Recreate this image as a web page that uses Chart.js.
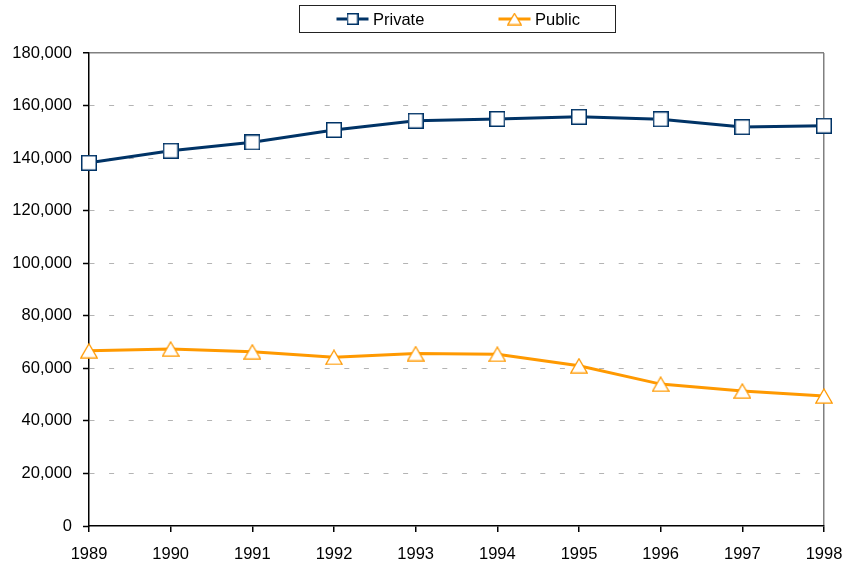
<!DOCTYPE html>
<html>
<head>
<meta charset="utf-8">
<script src="https://cdn.jsdelivr.net/npm/chart.js@4"></script>
<style>
  html, body { margin: 0; padding: 0; background: #fff; }
  #wrap { width: 846px; height: 565px; position: relative; }
</style>
</head>
<body>
<div id="wrap"><canvas id="chart"></canvas></div>
<script>
// DATA
const years = ["1989", "1990", "1991", "1992", "1993", "1994", "1995", "1996", "1997", "1998"];
const privateValues = [138200, 142800, 146000, 150700, 154200, 154900, 155700, 154800, 151800, 152300];
const publicValues = [66700, 67400, 66300, 64200, 65600, 65400, 61000, 54000, 51400, 49500];
const seriesNames = ["Private", "Public"];
const yMax = 180000;
const yStep = 20000;

const navy = "#003366";
const orange = "#FF9900";

// MARKERS (drawn once, used as point styles)
function squareMarker(size, color) {
    let c = document.createElement("canvas");
    c.width = size; c.height = size;
    let g = c.getContext("2d");
    g.fillStyle = "#fff";
    g.strokeStyle = color;
    g.lineWidth = 1.5;
    g.fillRect(0.75, 0.75, size - 1.5, size - 1.5);
    g.strokeRect(0.75, 0.75, size - 1.5, size - 1.5);
    return c;
}

function triangleMarker(w, h, color) {
    let c = document.createElement("canvas");
    c.width = w; c.height = h;
    let g = c.getContext("2d");
    g.fillStyle = "#fff";
    g.strokeStyle = color;
    g.lineWidth = 1.3;
    g.lineJoin = "miter";
    g.beginPath();
    g.moveTo(w / 2, 1);
    g.lineTo(w - 0.8, h - 0.8);
    g.lineTo(0.8, h - 0.8);
    g.closePath();
    g.fill();
    g.stroke();
    return c;
}

let privMarker = squareMarker(16, navy);
let pubMarker = triangleMarker(18, 16, orange);

Chart.defaults.font.family = '"Liberation Sans", Arial, sans-serif';
Chart.defaults.font.size = 16.5;
Chart.defaults.color = "#000";

// LEGEND (boxed, line + marker symbols)
const boxedLegend = {
    id: "boxedLegend",
    afterDraw(chart) {
        let ctx = chart.ctx;
        let ca = chart.chartArea;
        let cx = (ca.left + ca.right) / 2;
        let y = 19;

        ctx.save();
        ctx.strokeStyle = "#222";
        ctx.lineWidth = 1;
        ctx.strokeRect(Math.round(cx - 158) + 0.5, 5.5, 316, 27);

        let items = [
            { x: cx - 120, color: navy, marker: squareMarker(12, navy) },
            { x: cx + 42, color: orange, marker: triangleMarker(15, 13, orange) }
        ];

        ctx.font = '16.5px "Liberation Sans", Arial, sans-serif';
        ctx.textBaseline = "middle";
        ctx.fillStyle = "#000";

        items.forEach((it, i) => {
            ctx.strokeStyle = it.color;
            ctx.lineWidth = 3;
            ctx.beginPath();
            ctx.moveTo(it.x, y);
            ctx.lineTo(it.x + 32, y);
            ctx.stroke();
            let m = it.marker;
            ctx.drawImage(m, it.x + 16 - m.width / 2, y - m.height / 2);
            ctx.fillText(chart.data.datasets[i].label, it.x + 36.5, y + 1);
        });
        ctx.restore();
    }
};

new Chart(document.getElementById("chart"), {
    type: "line",
    data: {
        labels: years,
        datasets: [
            {
                label: seriesNames[0],
                data: privateValues,
                borderColor: navy,
                backgroundColor: navy,
                borderWidth: 3,
                tension: 0,
                pointStyle: privMarker,
                pointRadius: 8,
                clip: false
            },
            {
                label: seriesNames[1],
                data: publicValues,
                borderColor: orange,
                backgroundColor: orange,
                borderWidth: 3,
                tension: 0,
                pointStyle: pubMarker,
                pointRadius: 8,
                clip: false
            }
        ]
    },
    options: {
        responsive: true,
        maintainAspectRatio: false,
        animation: false,
        layout: { padding: { top: 53, right: 22, left: 0, bottom: 0 } },
        plugins: {
            legend: { display: false },
            tooltip: { enabled: false }
        },
        scales: {
            x: {
                offset: false,
                grid: {
                    color: c => c.index === years.length - 1 ? "#808080" : "rgba(0,0,0,0)",
                    lineWidth: 1.5,
                    tickLength: 6,
                    tickColor: "#000",
                    tickWidth: 1.5
                },
                border: { color: "#000", width: 1.5 },
                ticks: { padding: 13, maxRotation: 0, autoSkip: false, color: "#000" },
                afterFit: s => {
                    s.height = 39;
                    // labels may overhang the plot edges, like the original
                    s.paddingLeft = 0;
                    s.paddingRight = 0;
                }
            },
            y: {
                min: 0,
                max: yMax,
                grid: {
                    color: c => c.tick.value === 0 ? "rgba(0,0,0,0)" :
                                c.tick.value === yMax ? "#808080" : "#b4b4b4",
                    lineWidth: c => c.tick.value === yMax ? 1.5 : 1,
                    tickLength: 6,
                    tickColor: "#000",
                    tickWidth: 1.5
                },
                border: {
                    color: "#000",
                    width: 1.5,
                    dash: c => (c.tick && c.tick.value === yMax) ? [] : [5, 14.6]
                },
                ticks: {
                    stepSize: yStep,
                    padding: 11,
                    color: "#000",
                    callback: v => v.toLocaleString("en-US")
                },
                afterFit: s => { s.width = 89; }
            }
        }
    },
    plugins: [boxedLegend]
});
</script>
</body>
</html>
